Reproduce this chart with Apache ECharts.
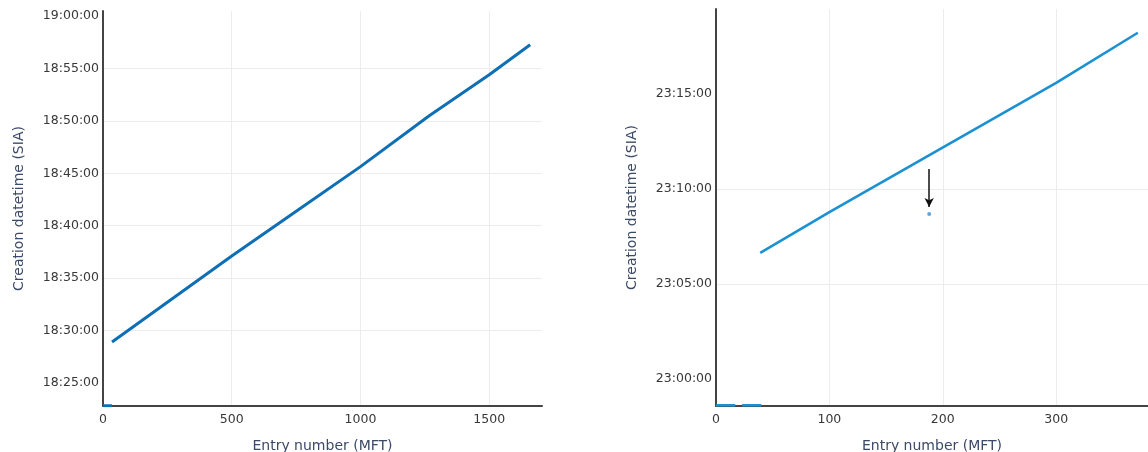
<!DOCTYPE html>
<html>
<head>
<meta charset="utf-8">
<script src="https://cdn.jsdelivr.net/npm/echarts@6/dist/echarts.min.js"></script>
<style>
html,body{margin:0;padding:0;background:#fff;}
#c{width:1148px;height:452px;}
</style>
</head>
<body>
<div id="c"></div>
<script>
// ---- Data ----
// Left panel
const leftX      = [35, 500, 763, 1000, 1267, 1500, 1659];
const leftTime   = ['18:28:55', '18:37:07', '18:41:36', '18:45:38', '18:50:29', '18:54:23', '18:57:15'];
const leftLowX    = [0, 35];
const leftLowTime = ['18:22:51', '18:22:51'];
const leftXRange  = [0, 1705];
const leftYRange  = ['18:22:49', '19:00:28'];
const leftYTicks  = ['18:25:00', '18:30:00', '18:35:00', '18:40:00', '18:45:00', '18:50:00', '18:55:00', '19:00:00'];
const leftXTicks  = 500;

// Right panel
const rightX      = [39, 100, 300, 372];
const rightTime   = ['23:06:38', '23:08:47', '23:15:35', '23:18:13'];
const rightLowX    = [0, 17, 23, 40];
const rightLowTime = ['22:58:37', '22:58:37', '22:58:37', '22:58:37'];
const outlierX    = [188];
const outlierTime = ['23:08:41'];
const arrowX      = 188;
const arrowTime   = ['23:11:03', '23:09:03'];
const rightXRange = [0, 381];
const rightYRange = ['22:58:35', '23:19:28'];
const rightYTicks = ['23:00:00', '23:05:00', '23:10:00', '23:15:00'];
const rightXTicks = 100;

// Labels
const xAxisName = 'Entry number (MFT)';
const yAxisName = 'Creation datetime (SIA)';

// ---- Helpers ----
function toMs(s) {
  const p = s.split(':').map(Number);
  return Date.UTC(2020, 0, 1, p[0], p[1], p[2]);
}
function pad(n) { return (n < 10 ? '0' : '') + n; }
function fmt(v) {
  const d = new Date(Math.round(v / 1000) * 1000);
  return pad(d.getUTCHours()) + ':' + pad(d.getUTCMinutes()) + ':' + pad(d.getUTCSeconds());
}
function pairs(xs, ts) { return xs.map((x, i) => [x, toMs(ts[i])]); }

const FONT = 'DejaVu Sans';
const lineColorL = '#0f6fb4';
const lineColorR = '#1c91d2';

function xAxisCfg(idx, range, interval) {
  return {
    type: 'value', gridIndex: idx, min: range[0], max: range[1], interval: interval,
    name: xAxisName, nameLocation: 'middle', nameGap: 33,
    nameTextStyle: { fontFamily: FONT, fontSize: 14, color: '#3b4a68' },
    axisLine: { show: true, onZero: false, lineStyle: { color: '#444', width: 2 } },
    axisTick: { show: false },
    axisLabel: { fontFamily: FONT, fontSize: 12.5, color: '#383838', margin: 7, showMaxLabel: false,
                 formatter: v => String(v) },
    splitLine: { show: true, showMaxLine: false, showMinLine: false, lineStyle: { color: '#ececec', width: 1 } }
  };
}
function yAxisCfg(idx, range, ticks) {
  const tv = ticks.map(toMs);
  return {
    type: 'value', gridIndex: idx, min: toMs(range[0]), max: toMs(range[1]),
    name: yAxisName, nameLocation: 'middle', nameGap: 77, nameRotate: 90,
    nameTextStyle: { fontFamily: FONT, fontSize: 14, color: '#3b4a68' },
    axisLine: { show: true, onZero: false, lineStyle: { color: '#444', width: 2 } },
    axisTick: { show: false, customValues: tv },
    axisLabel: { fontFamily: FONT, fontSize: 12.5, color: '#383838', margin: 4, formatter: fmt,
                 customValues: tv, padding: [4, 0, 0, 0] },
    splitLine: { show: true, showMaxLine: false, showMinLine: false, lineStyle: { color: '#ececec', width: 1 } }
  };
}

const rightLow = pairs(rightLowX, rightLowTime);
const rightLowData = [rightLow[0], rightLow[1], [20, '-'], rightLow[2], rightLow[3]];

const option = {
  animation: false,
  backgroundColor: '#fff',
  grid: [
    { left: 103, right: 606, top: 11, bottom: 46, containLabel: false, outerBoundsMode: 'none' },
    { left: 716, right: 0, top: 9, bottom: 46, containLabel: false, outerBoundsMode: 'none' }
  ],
  xAxis: [xAxisCfg(0, leftXRange, leftXTicks), xAxisCfg(1, rightXRange, rightXTicks)],
  yAxis: [yAxisCfg(0, leftYRange, leftYTicks), yAxisCfg(1, rightYRange, rightYTicks)],
  series: [
    { type: 'line', xAxisIndex: 0, yAxisIndex: 0, data: pairs(leftX, leftTime),
      showSymbol: false, lineStyle: { color: lineColorL, width: 3 }, z: 3 },
    { type: 'line', xAxisIndex: 0, yAxisIndex: 0, data: pairs(leftLowX, leftLowTime),
      showSymbol: false, lineStyle: { color: lineColorL, width: 3 }, z: 3 },
    { type: 'line', xAxisIndex: 1, yAxisIndex: 1, data: pairs(rightX, rightTime),
      showSymbol: false, lineStyle: { color: lineColorR, width: 2.6 }, z: 3,
      markLine: {
        silent: true, symbol: ['none', 'arrow'], symbolSize: [7, 9],
        label: { show: false },
        lineStyle: { color: '#111', width: 1.5, type: 'solid' },
        data: [[{ coord: [arrowX, toMs(arrowTime[0])] }, { coord: [arrowX, toMs(arrowTime[1])] }]]
      } },
    { type: 'line', xAxisIndex: 1, yAxisIndex: 1, data: rightLowData, connectNulls: false,
      showSymbol: false, lineStyle: { color: lineColorR, width: 2.5 }, z: 3 },
    { type: 'scatter', xAxisIndex: 1, yAxisIndex: 1, data: pairs(outlierX, outlierTime),
      symbolSize: 4, itemStyle: { color: '#3d8fd0' }, z: 4 }
  ]
};

const chart = echarts.init(document.getElementById('c'), null, { renderer: 'canvas' });
chart.setOption(option);
</script>
</body>
</html>
